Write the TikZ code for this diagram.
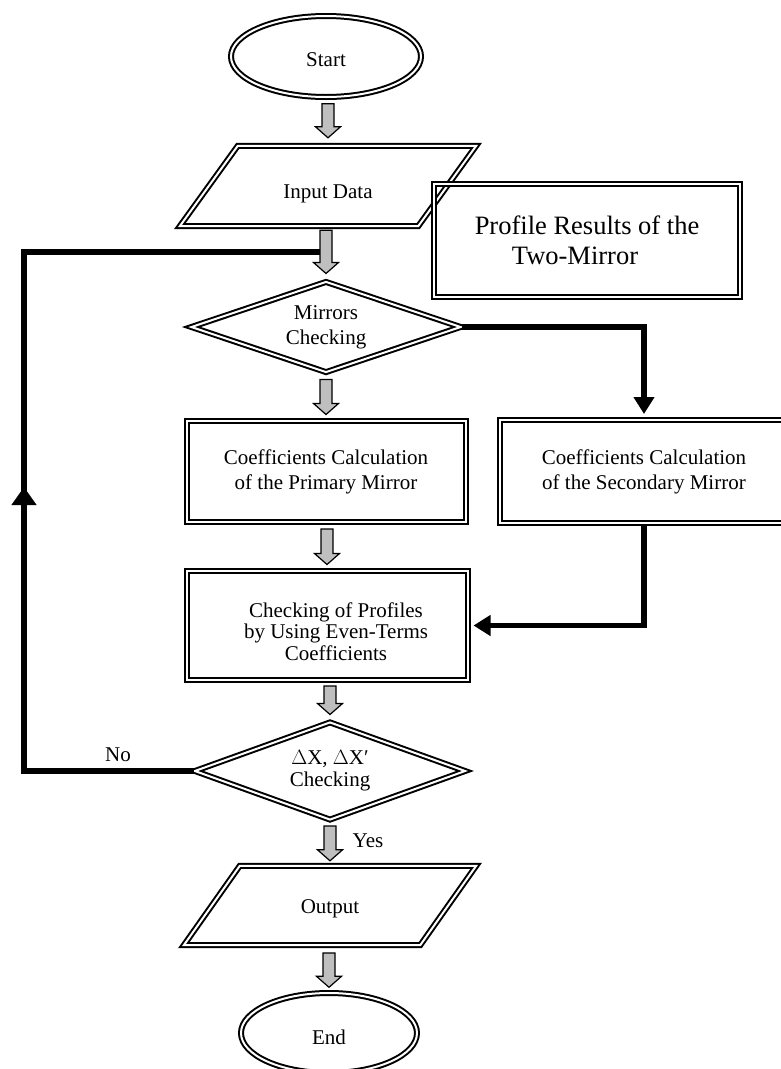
\documentclass[tikz,border=0pt]{standalone}
\usepackage{fontspec}
\setmainfont{Liberation Serif}
\usetikzlibrary{shapes.geometric,arrows.meta,calc}
\newcommand\garrow[2]{%
  \draw[garrowst] let \p1=(#1), \p2=(#2) in
    (\x2-6pt,\y1) -- (\x2+6pt,\y1) -- (\x2+6pt,\y2+11pt) -- (\x2+12.5pt,\y2+11pt)
    -- (\x2,\y2) -- (\x2-12.5pt,\y2+11pt) -- (\x2-6pt,\y2+11pt) -- cycle;}
\begin{document}
\begin{tikzpicture}[x=1pt,y=-1pt,
  dbl/.style={draw=black, line width=2pt, double=white, double distance=2pt},
  txt/.style={font=\fontsize{21}{25}\selectfont, align=center, inner sep=0pt},
  box/.style={dbl, rectangle, txt},
  term/.style={dbl, ellipse, txt},
  dec/.style={dbl, diamond, txt},
  io/.style={rectangle, txt},
  bigline/.style={line width=5.5pt, draw=black, line join=miter},
  bigarrow/.style={bigline, -{Triangle[width=20pt,length=17pt]}},
  garrowst/.style={draw=black, line width=1.2pt, fill=gray!50, line join=miter},
  lbl/.style={font=\fontsize{21}{25}\selectfont, inner sep=0pt, align=center}
]
\useasboundingbox (0,0) rectangle (780,1069);

% terminals
\node[term, minimum width=190pt, minimum height=81pt] (st) at (326,56.5)
  {\raisebox{-3.5pt}[\height][\depth]{Start}};
\node[term, minimum width=176pt, minimum height=80pt] (en) at (329,1033)
  {\raisebox{-4pt}[\height][\depth]{End}};

% input / output parallelograms
\node[io, minimum width=238pt, minimum height=80pt] (inp) at (328,186)
  {\raisebox{-8pt}[\height][\depth]{Input Data}};
\draw[dbl] ([xshift=29pt]inp.north west) -- ([xshift=29pt]inp.north east)
  -- ([xshift=-29pt]inp.south east) -- ([xshift=-29pt]inp.south west) -- cycle;
\node[io, minimum width=236pt, minimum height=79pt] (out) at (330,905.5)
  {\raisebox{-3pt}[\height][\depth]{Output}};
\draw[dbl] ([xshift=28pt]out.north west) -- ([xshift=28pt]out.north east)
  -- ([xshift=-28pt]out.south east) -- ([xshift=-28pt]out.south west) -- cycle;

% profile results box
\node[box, minimum width=306pt, minimum height=113pt,
  font=\fontsize{26.5}{30}\selectfont] (prof) at (587,240.5)
  {Profile Results of the\\Two-Mirror\hspace*{24pt}};

% decisions
\node[dec, aspect=2.9, minimum width=270pt, minimum height=91pt] (mir) at (326,327)
  {Mirrors\\Checking};
\node[dec, aspect=2.75, minimum width=271pt, minimum height=98pt,
  font=\fontsize{21}{22}\selectfont] (dx) at (330,771)
  {$\Delta$X, $\Delta$X′\\Checking};

% process boxes
\node[box, minimum width=279pt, minimum height=101pt] (pri) at (326,471.5)
  {Coefficients Calculation\\of the Primary Mirror};
\node[box, minimum width=288pt, minimum height=103pt] (sec) at (644,471.5)
  {Coefficients Calculation\\of the Secondary Mirror};
\node[box, minimum width=281pt, minimum height=109pt,
  label={[lbl, xshift=9pt, yshift=-6pt, font=\fontsize{21}{21.5}\selectfont]center:{Checking of Profiles\\by Using Even-Terms\\Coefficients}}]
  (chk) at (327,625.5) {};

% labels
\node[lbl] (no) at (118,755) {No};
\node[lbl] (yes) at (368,841) {Yes};

% loop back (No)
\coordinate (lpb) at (24,771);
\coordinate (lpt) at (24,252);
\coordinate (lpm) at (24,487);
\coordinate (lpe) at (324,252);
\draw[bigline] (dx.west) -- (lpb) -- (lpt) -- (lpe);
\draw[bigline, -{Triangle[width=24pt,length=18pt]}] (lpb) -- (lpm);

% branch to secondary mirror
\draw[bigarrow] (mir.east) -- (mir.east -| sec.north) -- ([yshift=5pt]sec.north);
\draw[bigarrow] (sec.south) |- ([xshift=5pt]chk.east);

% gray block arrows
\garrow{[yshift=-5.7pt]st.south}{[yshift=8pt]inp.north}
\garrow{[yshift=-4pt]inp.south}{[yshift=7pt]mir.north}
\garrow{[yshift=-6pt]mir.south}{[yshift=5.5pt]pri.north}
\garrow{[yshift=-6pt]pri.south}{[yshift=5.5pt]chk.north}
\garrow{[yshift=-5pt]chk.south}{[yshift=6.5pt]dx.north}
\garrow{[yshift=-5pt]dx.south}{[yshift=5pt]out.north}
\garrow{[yshift=-7.7pt]out.south}{[yshift=4.7pt]en.north}
\end{tikzpicture}
\end{document}
